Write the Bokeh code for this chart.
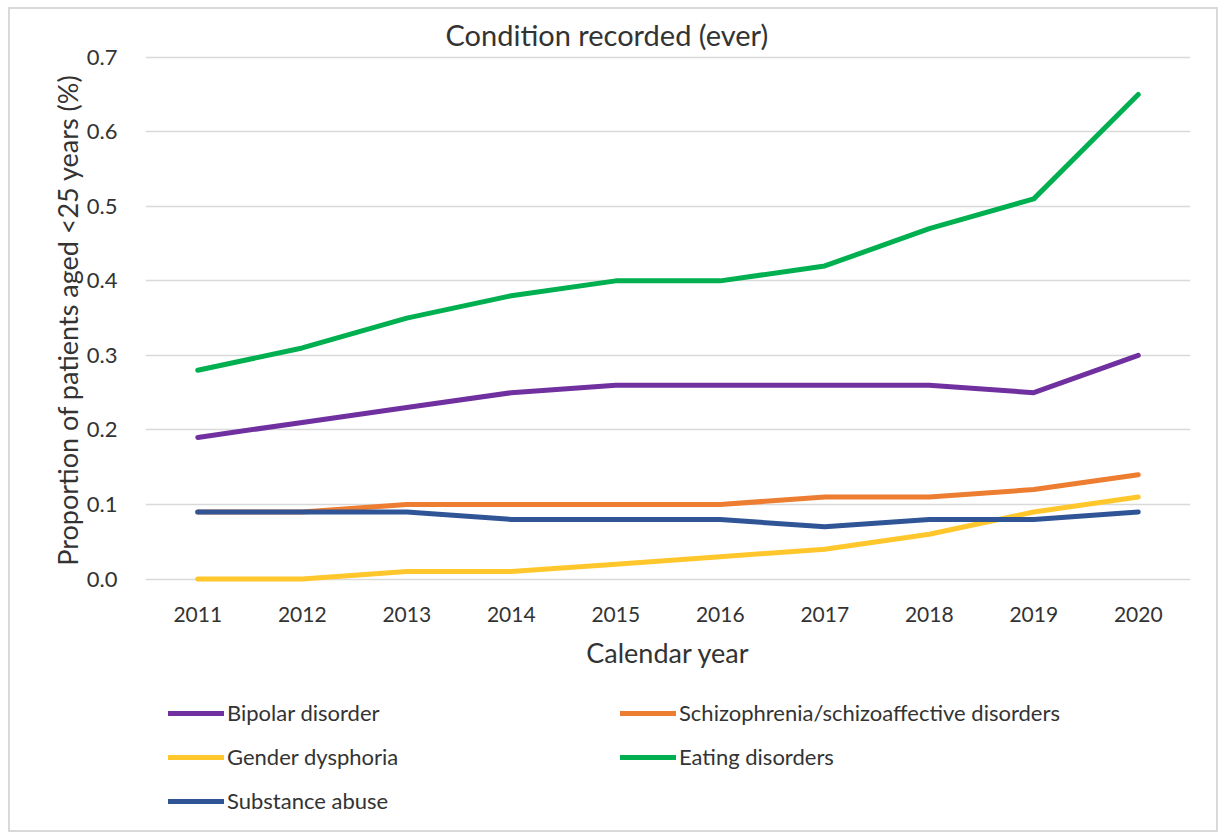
from bokeh.plotting import figure
from bokeh.layouts import column
from bokeh.models import Range1d, FixedTicker, PrintfTickFormatter, Legend, LegendItem
from bokeh.embed import file_html
from bokeh.resources import INLINE

years = [2011, 2012, 2013, 2014, 2015, 2016, 2017, 2018, 2019, 2020]
bipolar = [0.19, 0.21, 0.23, 0.25, 0.26, 0.26, 0.26, 0.26, 0.25, 0.30]
schizo = [0.09, 0.09, 0.10, 0.10, 0.10, 0.10, 0.11, 0.11, 0.12, 0.14]
gender = [0.00, 0.00, 0.01, 0.01, 0.02, 0.03, 0.04, 0.06, 0.09, 0.11]
eating = [0.28, 0.31, 0.35, 0.38, 0.40, 0.40, 0.42, 0.47, 0.51, 0.65]
substance = [0.09, 0.09, 0.09, 0.08, 0.08, 0.08, 0.07, 0.08, 0.08, 0.09]
y_ticks = [0.0, 0.1, 0.2, 0.3, 0.4, 0.5, 0.6, 0.7]

series_names = ["Bipolar disorder", "Schizophrenia/schizoaffective disorders",
                "Gender dysphoria", "Eating disorders", "Substance abuse"]
series_values = [bipolar, schizo, gender, eating, substance]
series_colors = ["#7030A0", "#ED7D31", "#FFC72C", "#00B050", "#2F5597"]

FONT = "Lato"
TXT = "#333333"

p = figure(frame_width=1045, frame_height=533, output_backend="svg",
           toolbar_location=None,
           x_range=Range1d(2010.5, 2020.5), y_range=Range1d(-0.01, 0.705),
           min_border_left=135, min_border_right=26, min_border_top=44,
           min_border_bottom=104)
p.outline_line_color = None

p.title.text = "Condition recorded (ever)"
p.title.align = "left"
p.title.offset = 300
p.title.standoff = 4
p.title.text_font = FONT
p.title.text_font_size = "29px"
p.title.text_font_style = "normal"
p.title.text_color = TXT

for ax in (p.xaxis[0], p.yaxis[0]):
    ax.axis_line_color = None
    ax.major_tick_line_color = None
    ax.minor_tick_line_color = None
    ax.major_label_text_font = FONT
    ax.major_label_text_color = TXT
    ax.axis_label_text_font = FONT
    ax.axis_label_text_font_style = "normal"
    ax.axis_label_text_color = TXT

p.xaxis.ticker = FixedTicker(ticks=years)
p.xaxis.axis_label = "Calendar year"
p.xaxis.major_label_text_font_size = "21px"
p.xaxis.axis_label_text_font_size = "27px"
p.xaxis.major_label_standoff = 14
p.xaxis.axis_label_standoff = 11

p.yaxis.ticker = FixedTicker(ticks=y_ticks)
p.yaxis.formatter = PrintfTickFormatter(format="%.1f")
p.yaxis.axis_label = "Proportion of patients aged <25 years (%)"
p.yaxis.major_label_text_font_size = "22px"
p.yaxis.axis_label_text_font_size = "27px"
p.yaxis.major_label_standoff = 22
p.yaxis.axis_label_standoff = 0

p.xgrid.grid_line_color = None
p.ygrid.grid_line_color = "#d9d9d9"
p.ygrid.grid_line_width = 1.5

for vals, col in zip(series_values, series_colors):
    p.line(years, vals, line_color=col, line_width=5,
           line_cap="round", line_join="round")

# legend strip below the chart (its frame is aligned with the chart's frame)
lg = figure(width=1206, height=140, output_backend="svg", toolbar_location=None,
            x_axis_type=None, y_axis_type=None, title=None,
            x_range=Range1d(0, 1), y_range=Range1d(0, 1),
            min_border_left=0, min_border_right=0, min_border_top=0,
            min_border_bottom=0)
lg.outline_line_color = None
lg.xgrid.visible = False
lg.ygrid.visible = False

items = {}
for name, vals, col in zip(series_names, series_values, series_colors):
    # same series, outside this strip's view: only its legend glyph shows
    r = lg.line(years, vals, line_color=col, line_width=5, line_cap="round")
    items[name] = LegendItem(label=name, renderers=[r])

# legend fills column by column: order so that rows read like the reference
legend_order = ["Bipolar disorder", "Gender dysphoria", "Substance abuse",
                "Schizophrenia/schizoaffective disorders", "Eating disorders"]
legend = Legend(items=[items[n] for n in legend_order], ncols=2,
                location=(23, 16),
                label_text_font=FONT, label_text_font_size="22px",
                label_text_color=TXT,
                glyph_width=56, glyph_height=20, label_height=22,
                label_width=376, spacing=17, label_standoff=3,
                padding=0, margin=0, border_line_color=None,
                background_fill_alpha=0)
lg.add_layout(legend, "center")

layout = column(p, lg, spacing=0)
layout.styles = {"margin-left": "8px", "margin-top": "7px",
                 "border": "2px solid #d9d9d9"}

open("out.html", "w").write(file_html(layout, INLINE))
